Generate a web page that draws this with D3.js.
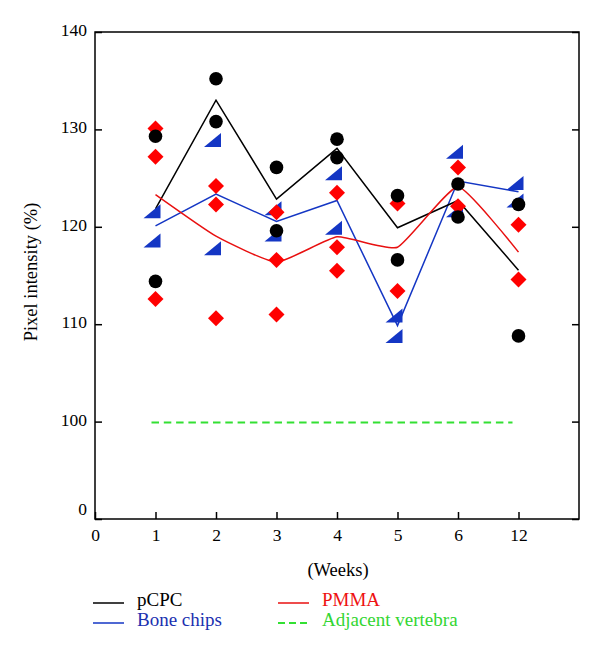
<!DOCTYPE html>
<html>
<head>
<meta charset="utf-8">
<script src="https://cdn.jsdelivr.net/npm/d3@7"></script>
<style>
  html, body { margin: 0; padding: 0; background: #fff; }
  svg { display: block; }
  text { font-family: "Liberation Serif", "DejaVu Serif", serif; }
</style>
</head>
<body>
<svg id="chart" width="600" height="654"></svg>
<script>
// ---- data ----
const tickLabels = ["0", "1", "2", "3", "4", "5", "6", "12"];
const weeks = ["1", "2", "3", "4", "5", "6", "12"];
const yTickValues = [90, 100, 110, 120, 130, 140];
const yTickLabels = ["0", "100", "110", "120", "130", "140"];

const pcpc = [
  [129.3, 114.4],
  [135.2, 130.8],
  [126.1, 119.6],
  [129.0, 127.1],
  [123.2, 116.6],
  [124.4, 121.0],
  [122.3, 108.8]
];
const boneChips = [
  [121.6, 118.6],
  [128.9, 117.8],
  [121.9, 119.2],
  [125.5, 119.9],
  [110.9, 108.8],
  [127.7, 121.7],
  [124.5, 122.7]
];
const pmma = [
  [130.1, 127.2, 112.6],
  [124.2, 122.3, 110.6],
  [121.5, 116.6, 111.0],
  [123.5, 117.9, 115.5],
  [122.4, 113.4],
  [126.1, 122.1],
  [120.2, 114.6]
];
const adjacent = [99.9, 99.9];
const adjacentWeeks = ["1", "12"];

// ---- layout ----
const svg = d3.select("#chart");
const mLeft = 95, mRight = 579, mTop = 32, mBottom = 519;

const x = d3.scaleLinear().domain([0, tickLabels.length]).range([mLeft, mRight]);
const xw = w => x(tickLabels.indexOf(w));
const y = d3.scaleLinear().domain([90, 140]).range([mBottom, mTop]);

const colBlack = "#000000", colBlue = "#1436c4", colRed = "#ff0000", colGreen = "#33e033";

// frame
svg.append("rect").attr("x", mLeft).attr("y", mTop).attr("width", mRight - mLeft).attr("height", mBottom - mTop)
  .attr("fill", "none").attr("stroke", "#000").attr("stroke-width", 1.5);

// y axis (left)
const yAxis = d3.axisLeft(y).tickValues(yTickValues)
  .tickFormat((d, i) => yTickLabels[i]).tickSizeInner(-7).tickSizeOuter(0).tickPadding(8);
const gy = svg.append("g").attr("transform", `translate(${mLeft},0)`).call(yAxis);
gy.select(".domain").remove();
gy.selectAll("line").attr("stroke-width", 1.5);
gy.selectAll("text").attr("font-size", 17.5).attr("fill", "#000")
  .attr("dy", (d) => d === 90 ? "-0.25em" : "0.2em");

// y axis (right) ticks only
const yAxisR = d3.axisRight(y).tickValues(yTickValues).tickFormat("").tickSizeInner(-7).tickSizeOuter(0);
const gyr = svg.append("g").attr("transform", `translate(${mRight},0)`).call(yAxisR);
gyr.select(".domain").remove();
gyr.selectAll("line").attr("stroke-width", 1.5);

// x axis
const xAxis = d3.axisBottom(x).tickValues(d3.range(tickLabels.length))
  .tickFormat((d) => tickLabels[d]).tickSizeInner(-7).tickSizeOuter(0).tickPadding(10);
const gx = svg.append("g").attr("transform", `translate(0,${mBottom})`).call(xAxis);
gx.select(".domain").remove();
gx.selectAll("line").attr("stroke-width", 1.5);
gx.selectAll("text").attr("font-size", 17.5).attr("fill", "#000");

// axis titles
svg.append("text").attr("transform", `translate(37,272) rotate(-90)`)
  .attr("text-anchor", "middle").attr("font-size", 18.5).text("Pixel intensity (%)");
svg.append("text").attr("x", 338).attr("y", 576)
  .attr("text-anchor", "middle").attr("font-size", 18.5).text("(Weeks)");

// ---- lines through means ----
const meanPts = arr => arr.map((vals, i) => [xw(weeks[i]), y(d3.mean(vals))]);

svg.append("path").attr("d", d3.line()(meanPts(boneChips)))
  .attr("fill", "none").attr("stroke", colBlue).attr("stroke-width", 1.5);
svg.append("path").attr("d", d3.line()(meanPts(pcpc)))
  .attr("fill", "none").attr("stroke", colBlack).attr("stroke-width", 1.5);
svg.append("path").attr("d", d3.line().curve(d3.curveCardinal.tension(0.55))(meanPts(pmma)))
  .attr("fill", "none").attr("stroke", "#e81010").attr("stroke-width", 1.5);

// adjacent vertebra dashed
svg.append("path")
  .attr("d", d3.line()(adjacentWeeks.map((w, i) => [xw(w) + (i === 0 ? -4 : -6), y(adjacent[i])])))
  .attr("fill", "none").attr("stroke", colGreen).attr("stroke-width", 2)
  .attr("stroke-dasharray", "7.5,4.8");

// ---- markers ----
const flat = arr => arr.flatMap((vals, i) => vals.map(v => ({ w: weeks[i], v })));

// blue right triangles
svg.append("g").selectAll("path").data(flat(boneChips)).join("path")
  .attr("transform", d => `translate(${xw(d.w)},${y(d.v)})`)
  .attr("d", "M-12,7 L5,7 L5,-7 Z")
  .attr("fill", colBlue);

// red diamonds
svg.append("g").selectAll("path").data(flat(pmma)).join("path")
  .attr("transform", d => `translate(${xw(d.w)},${y(d.v)})`)
  .attr("d", "M0,-8 L8,0 L0,8 L-8,0 Z")
  .attr("fill", colRed);

// black circles
svg.append("g").selectAll("circle").data(flat(pcpc)).join("circle")
  .attr("cx", d => xw(d.w)).attr("cy", d => y(d.v)).attr("r", 6.8)
  .attr("fill", colBlack);

// ---- legend ----
const legend = [
  { name: "pCPC", color: colBlack, text: "#000", lx: 93, ly: 603, dash: null },
  { name: "Bone chips", color: colBlue, text: "#1a30b0", lx: 93, ly: 623, dash: null },
  { name: "PMMA", color: "#e81010", text: "#ee1111", lx: 278, ly: 603, dash: null },
  { name: "Adjacent vertebra", color: colGreen, text: "#33d633", lx: 278, ly: 623, dash: "7,4" }
];
const lg = svg.append("g").selectAll("g").data(legend).join("g");
lg.append("line").attr("x1", d => d.lx).attr("x2", d => d.lx + 31)
  .attr("y1", d => d.ly).attr("y2", d => d.ly)
  .attr("stroke", d => d.color).attr("stroke-width", d => d.dash ? 2 : 1.5)
  .attr("stroke-dasharray", d => d.dash);
lg.append("text").attr("x", d => d.lx + 44).attr("y", d => d.ly + 3)
  .attr("font-size", 19).attr("fill", d => d.text).text(d => d.name);
</script>
</body>
</html>
